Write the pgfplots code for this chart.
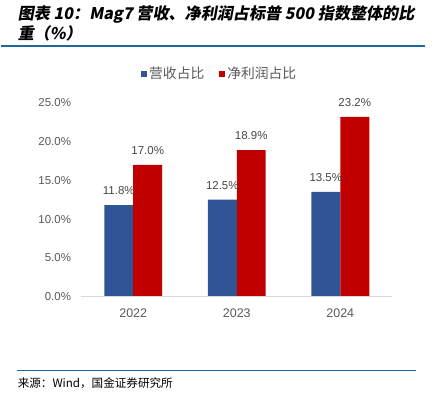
\documentclass[border=0pt]{standalone}
\usepackage{fontspec}
\setmainfont{Liberation Sans}
\newfontfamily\cjk{Noto Sans CJK SC}
\newfontfamily\titlefont[FakeSlant=0.18,BoldFeatures={FakeSlant=0.18}]{Noto Sans CJK SC}
\usepackage{pgfplots}
\pgfplotsset{compat=1.18}
\definecolor{barblue}{RGB}{47,85,151}
\definecolor{barred}{RGB}{192,0,0}
\definecolor{rulecol}{RGB}{31,104,157}
\definecolor{ticktxt}{RGB}{89,89,89}
\definecolor{lbltxt}{RGB}{70,70,70}
\begin{document}
\begin{tikzpicture}[x=1pt,y=1pt]
\path (0,0) rectangle (434,397);
% title
\node[anchor=west,inner sep=0] at (17,383) {\titlefont\bfseries\fontsize{16.1}{18}\selectfont 图表 10：Mag7 营收、净利润占标普 500 指数整体的比};
\node[anchor=west,inner sep=0] at (17,364) {\titlefont\bfseries\fontsize{16.1}{18}\selectfont 重（\%）};
\draw[rulecol,line width=1.2pt] (0,351) -- (425,351);
\draw[rulecol,line width=1.2pt] (16,26) -- (416,26);
\node[anchor=west,inner sep=0] at (17,13) {\cjk\fontsize{11.6}{13}\selectfont 来源：Wind，国金证券研究所};
\begin{axis}[
  at={(81pt,100pt)}, anchor=south west,
  scale only axis, width=311pt, height=194pt,
  ybar=0pt, bar width=29pt,
  xmin=-0.5, xmax=2.5, ymin=0, ymax=25,
  xtick={0,1,2}, xticklabels={2022,2023,2024},
  ytick={0,5,10,15,20,25},
  yticklabel={\pgfmathprintnumber[fixed,fixed zerofill,precision=1]{\tick}\%},
  /pgf/number format/assume math mode=true,
  axis line style={draw=none},
  major tick length=0pt,
  tick label style={text=ticktxt,font=\fontsize{11.5}{13}\selectfont},
  yticklabel style={xshift=-7pt},
  xticklabel style={yshift=-9pt,font=\fontsize{12.5}{14}\selectfont},
  clip=false,
  nodes near coords={\pgfmathprintnumber[fixed,fixed zerofill,precision=1]{\pgfplotspointmeta}\%},
  nodes near coords style={text=lbltxt,font=\fontsize{11.5}{13}\selectfont,anchor=south,yshift=7pt},
  legend style={draw=none,fill=none,at={(0.445,1.15)},anchor=center,legend columns=2,
    font=\cjk\fontsize{13.8}{15}\selectfont,text=ticktxt,
    /tikz/every even column/.append style={column sep=13pt}},
  legend image code/.code={\fill (0pt,-3pt) rectangle (6pt,3pt);},
  extra description/.code={\draw[black!15,line width=0.8pt] (rel axis cs:0,0) -- (rel axis cs:1,0);},
]
\addplot[fill=barblue,draw=none] coordinates {(0,11.8) (1,12.5) (2,13.5)};
\addplot[fill=barred,draw=none] coordinates {(0,17.0) (1,18.9) (2,23.2)};
\legend{营收占比,净利润占比}
\end{axis}
\end{tikzpicture}
\end{document}
